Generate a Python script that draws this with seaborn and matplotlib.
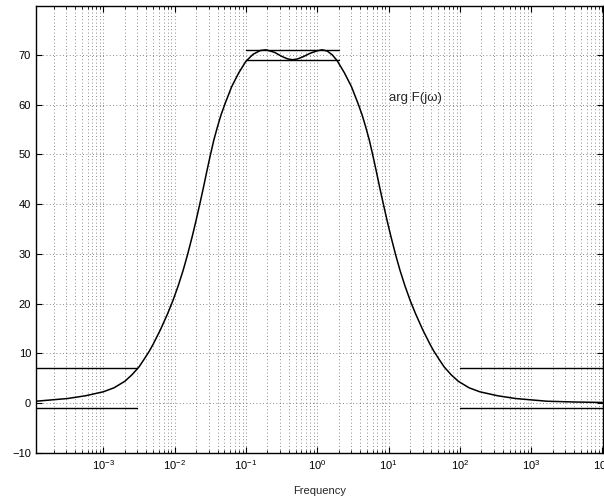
import matplotlib
matplotlib.use("Agg")
import matplotlib.pyplot as plt
import seaborn as sns
import pandas as pd
import numpy as np
from matplotlib.ticker import FixedLocator, LogLocator, LogFormatterMathtext

# Curve: log10(frequency) and phase value
log_freq = [-3.945, -3.7, -3.5, -3.25, -3.0, -2.85, -2.7, -2.6, -2.5, -2.43,
            -2.354, -2.3, -2.2, -2.1, -2.025, -1.95, -1.88, -1.82, -1.75, -1.7,
            -1.65, -1.6, -1.55, -1.5, -1.45, -1.4, -1.35, -1.29, -1.2, -1.1,
            -1.0, -0.9, -0.8, -0.72, -0.6, -0.5, -0.42, -0.35, -0.28, -0.2,
            -0.1, 0.0, 0.07, 0.14, 0.21, 0.28, 0.38, 0.48, 0.57, 0.63,
            0.68, 0.73, 0.78, 0.83, 0.88, 0.93, 0.98, 1.03, 1.10, 1.16,
            1.23, 1.305, 1.38, 1.48, 1.58, 1.634, 1.71, 1.78, 1.88, 1.98,
            2.13, 2.28, 2.53, 2.78, 2.98, 3.225, 3.6, 4.0]
phase = [0.4, 0.7, 0.95, 1.5, 2.3, 3.1, 4.4, 5.7, 7.3, 8.8,
         10.5, 11.9, 14.75, 17.95, 20.6, 23.6, 26.75, 29.8, 33.7, 36.7,
         39.85, 43.1, 46.5, 49.8, 52.9, 55.5, 57.9, 60.3, 63.6, 66.4,
         68.7, 70.1, 70.85, 71.0, 70.5, 69.7, 69.2, 69.0, 69.15, 69.6,
         70.3, 70.8, 71.0, 70.75, 70.0, 68.8, 66.4, 63.6, 60.3, 57.9,
         55.5, 52.9, 49.8, 46.5, 43.1, 39.85, 36.7, 33.7, 29.8, 26.75,
         23.6, 20.6, 17.95, 14.75, 11.9, 10.5, 8.8, 7.3, 5.7, 4.4,
         3.1, 2.3, 1.5, 0.95, 0.7, 0.4, 0.25, 0.15]

# Bound segments
low_seg = [1.135e-4, 3.0e-3]
mid_seg = [0.1, 2.0]
high_seg = [100.0, 1.0e4]
low_levels = [7, -1]
mid_levels = [71, 69]
high_levels = [7, -1]

xticks = [1e-3, 1e-2, 1e-1, 1e0, 1e1, 1e2, 1e3, 1e4]
yticks = [-10, 0, 10, 20, 30, 40, 50, 60, 70]

sns.set_style("ticks")
plt.rcParams['font.family'] = ['Liberation Sans', 'DejaVu Sans']
plt.rcParams['mathtext.fontset'] = 'custom'
plt.rcParams['mathtext.rm'] = 'Liberation Sans'
plt.rcParams['mathtext.it'] = 'Liberation Sans:italic'

fig = plt.figure(figsize=(6.04, 5.03), dpi=100)
ax = fig.add_axes([36/604, 1 - 453/503, (603 - 36)/604, (453 - 6)/503])

df = pd.DataFrame({"f": np.power(10.0, log_freq), "p": phase})
sns.lineplot(data=df, x="f", y="p", ax=ax, color="black", lw=1.1, sort=False)

for seg, levels in [(low_seg, low_levels), (mid_seg, mid_levels), (high_seg, high_levels)]:
    for lv in levels:
        ax.plot(seg, [lv, lv], color="black", lw=1.0)

ax.set_xscale("log")
ax.xaxis.set_major_locator(FixedLocator(xticks))
ax.xaxis.set_major_formatter(LogFormatterMathtext())
ax.xaxis.set_minor_locator(LogLocator(base=10, subs=np.arange(2, 10), numticks=100))
ax.set_xlim(1.135e-4, 1.02e4)
ax.set_ylim(-10, 79.8)
ax.set_yticks(yticks)

gstyle = dict(linestyle=(0, (1, 3)), color="0.4", lw=0.6)
ax.grid(which="major", axis="both", **gstyle)
ax.grid(which="minor", axis="x", **gstyle)

ax.tick_params(which="both", direction="in", top=True, right=True, labelsize=8, colors="black")
ax.tick_params(which="major", length=4, width=0.8)
ax.tick_params(which="minor", length=2, width=0.6)
for s in ax.spines.values():
    s.set_visible(True)
    s.set_color("black")
    s.set_linewidth(1.0)

ax.set_xlabel("Frequency", fontsize=8, labelpad=10)
ax.set_ylabel("")
ax.text(10, 61.4, "arg F(j\u03c9)", fontsize=9.5, ha="left", va="center")

fig.savefig("out.png", dpi=100)
